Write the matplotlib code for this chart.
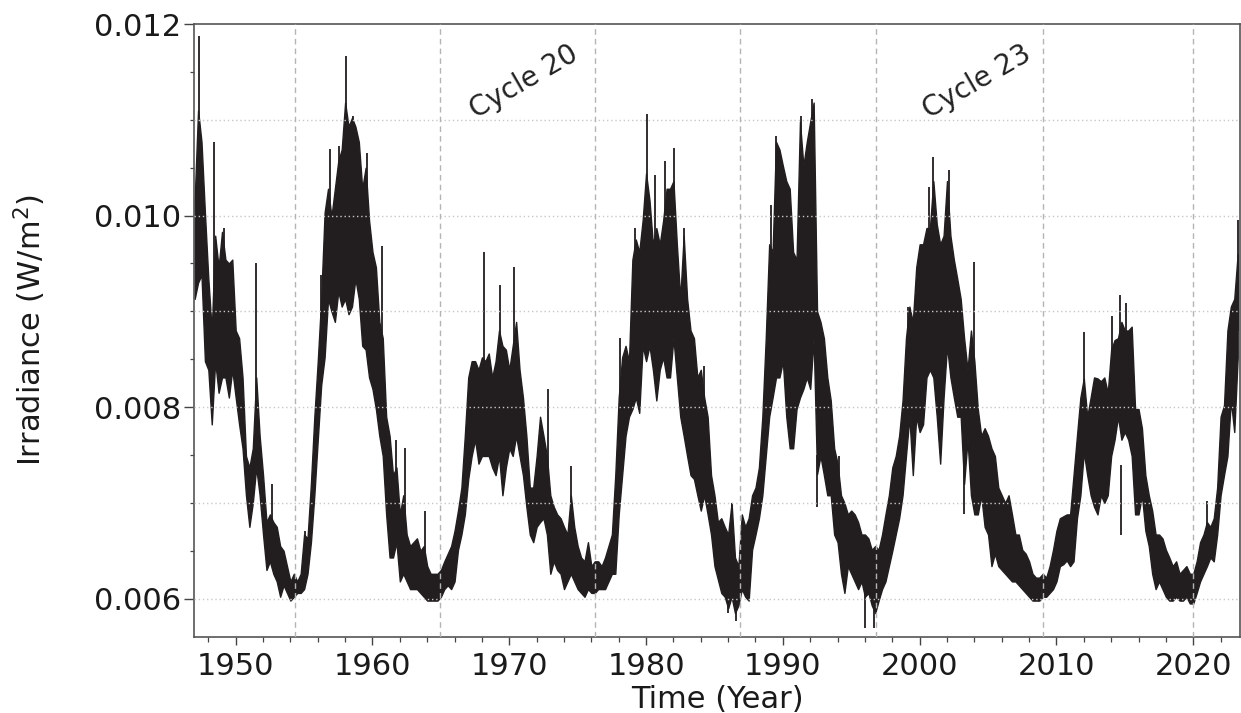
import numpy as np
import matplotlib
matplotlib.use("Agg")
import matplotlib.pyplot as plt
from matplotlib.ticker import MultipleLocator, FormatStrFormatter

# ---------------- data (irradiance in 1e-3 W/m^2) ----------------
t_start = 1947.0
t_step = 0.25  # quarter-year samples

irr_high = [
    10.16, 11.10, 10.77, 10.03, 9.34, 8.80, 9.79, 9.46, 9.83, 9.54, 9.50, 9.54,      # 1947-1949
    8.80, 8.72, 8.31, 7.49, 7.37, 7.57, 8.31, 7.70, 7.29, 6.80, 6.88, 6.80,          # 1950-1952
    6.75, 6.55, 6.50, 6.34, 6.18, 6.26, 6.18, 6.26, 6.67, 6.63, 7.20, 7.90,          # 1953-1955
    8.48, 9.13, 10.03, 10.28, 9.99, 10.28, 10.57, 10.69, 11.18, 10.93, 11.02, 10.93,  # 1956-1958
    10.77, 10.28, 10.50, 9.95, 9.62, 9.46, 8.89, 8.72, 7.90, 7.70, 7.29, 7.37,       # 1959-1961
    6.88, 7.08, 6.67, 6.55, 6.59, 6.63, 6.50, 6.55, 6.34, 6.26, 6.26, 6.26,          # 1962-1964
    6.30, 6.39, 6.47, 6.55, 6.71, 6.92, 7.16, 7.70, 8.31, 8.48, 8.48, 8.39,          # 1965-1967
    8.52, 8.48, 8.56, 8.31, 8.48, 8.80, 8.64, 8.60, 8.39, 8.64, 8.89, 8.39,          # 1968-1970
    8.10, 7.70, 7.16, 7.16, 7.49, 7.90, 7.70, 7.49, 7.08, 6.96, 6.88, 6.84,          # 1971-1973
    6.75, 6.67, 7.08, 6.75, 6.55, 6.43, 6.39, 6.59, 6.34, 6.39, 6.39, 6.34,          # 1974-1976
    6.43, 6.55, 6.67, 7.29, 8.10, 8.52, 8.64, 8.48, 9.54, 9.75, 9.62, 9.95,          # 1977-1979
    10.44, 10.16, 9.70, 9.87, 9.70, 9.95, 10.28, 10.28, 10.36, 9.70, 9.13, 9.79,     # 1980-1982
    9.13, 8.80, 8.72, 8.31, 8.39, 8.10, 7.90, 7.29, 7.08, 6.80, 6.84, 6.75,          # 1983-1985
    6.67, 7.00, 6.43, 6.34, 6.88, 6.75, 6.84, 7.08, 7.16, 7.37, 7.90, 8.72,          # 1986-1988
    9.70, 9.62, 10.77, 10.69, 10.52, 10.36, 10.28, 9.62, 9.54, 10.98, 10.52, 10.77,  # 1989-1991
    10.98, 11.18, 9.00, 8.89, 8.72, 8.31, 8.07, 7.57, 7.41, 7.08, 7.00, 6.88,        # 1992-1994
    6.92, 6.88, 6.80, 6.67, 6.67, 6.63, 6.51, 6.55, 6.51, 6.67, 6.88, 7.08,          # 1995-1997
    7.37, 7.49, 7.70, 8.07, 8.72, 9.05, 8.89, 9.46, 9.70, 9.70, 9.87, 9.87,          # 1998-2000
    10.36, 9.91, 9.70, 9.79, 10.36, 9.79, 9.54, 9.34, 9.13, 8.72, 8.39, 8.80,        # 2001-2003
    8.48, 7.98, 7.70, 7.78, 7.70, 7.57, 7.49, 7.16, 7.08, 7.00, 7.08, 6.88,          # 2004-2006
    6.67, 6.67, 6.51, 6.47, 6.39, 6.26, 6.22, 6.22, 6.26, 6.22, 6.34, 6.51,          # 2007-2009
    6.71, 6.84, 6.86, 6.88, 6.88, 7.29, 7.70, 8.10, 8.30, 7.90, 8.10, 8.31,          # 2010-2012
    8.30, 8.27, 8.31, 8.15, 8.60, 8.70, 8.72, 8.89, 8.80, 8.80, 8.84, 7.98,          # 2013-2015
    7.98, 7.78, 7.29, 7.08, 6.92, 6.67, 6.67, 6.63, 6.51, 6.43, 6.34, 6.39,          # 2016-2018
    6.26, 6.30, 6.34, 6.26, 6.26, 6.39, 6.59, 6.67, 6.80, 6.75, 6.84, 7.16,          # 2019-2021
    7.90, 8.02, 8.80, 9.05, 9.13, 9.60,                                              # 2022-2023.25
]

irr_low = [
    9.13, 9.30, 9.38, 8.48, 8.39, 7.82, 8.48, 8.15, 8.31, 8.31, 8.10, 8.39,          # 1947-1949
    8.10, 7.82, 7.57, 7.08, 6.75, 7.00, 7.37, 7.08, 6.67, 6.30, 6.39, 6.26,          # 1950-1952
    6.18, 6.02, 6.14, 6.06, 5.98, 6.02, 6.06, 6.06, 6.10, 6.26, 6.59, 7.08,          # 1953-1955
    7.66, 8.23, 8.52, 9.13, 9.00, 8.89, 9.21, 9.05, 9.13, 8.97, 9.05, 9.34,          # 1956-1958
    9.13, 8.64, 8.60, 8.31, 8.19, 7.98, 7.70, 7.49, 6.88, 6.43, 6.43, 6.59,          # 1959-1961
    6.18, 6.26, 6.18, 6.10, 6.10, 6.10, 6.06, 6.02, 5.98, 5.98, 5.98, 5.98,          # 1962-1964
    6.02, 6.10, 6.14, 6.10, 6.18, 6.51, 6.67, 6.88, 7.25, 7.49, 7.66, 7.41,          # 1965-1967
    7.49, 7.49, 7.49, 7.37, 7.29, 7.49, 7.08, 7.37, 7.57, 7.49, 7.70, 7.49,          # 1968-1970
    7.29, 6.96, 6.67, 6.59, 6.75, 6.80, 6.84, 6.67, 6.26, 6.39, 6.30, 6.26,          # 1971-1973
    6.10, 6.18, 6.26, 6.18, 6.10, 6.06, 6.02, 6.10, 6.06, 6.06, 6.10, 6.10,          # 1974-1976
    6.10, 6.18, 6.26, 6.26, 6.88, 7.29, 7.70, 7.90, 7.98, 8.10, 7.94, 8.64,          # 1977-1979
    8.48, 8.64, 8.39, 8.07, 8.39, 8.52, 8.31, 8.31, 8.72, 8.31, 7.90, 7.70,          # 1980-1982
    7.49, 7.29, 7.25, 7.08, 6.92, 7.08, 6.88, 6.67, 6.34, 6.20, 6.06, 6.02,          # 1983-1985
    5.90, 6.02, 5.85, 5.93, 6.10, 6.02, 5.98, 6.51, 6.67, 6.84, 7.08, 7.49,          # 1986-1988
    7.90, 8.10, 8.31, 8.31, 8.48, 7.90, 7.57, 7.57, 7.98, 8.10, 8.19, 8.31,          # 1989-1991
    8.19, 8.72, 7.30, 7.49, 7.29, 7.08, 7.08, 6.67, 6.59, 6.26, 6.06, 6.34,          # 1992-1994
    6.26, 6.18, 6.10, 6.18, 6.02, 6.06, 5.93, 5.85, 5.98, 6.10, 6.18, 6.34,          # 1995-1997
    6.50, 6.67, 6.84, 7.08, 7.49, 7.90, 7.29, 7.90, 7.74, 7.82, 8.31, 8.39,          # 1998-2000
    8.31, 7.90, 7.41, 8.10, 8.64, 8.31, 8.10, 7.90, 7.90, 7.20, 7.66, 7.08,          # 2001-2003
    6.88, 6.88, 7.08, 6.75, 6.67, 6.34, 6.47, 6.34, 6.30, 6.26, 6.22, 6.18,          # 2004-2006
    6.18, 6.14, 6.10, 6.06, 6.02, 5.98, 5.98, 5.98, 6.02, 6.02, 6.06, 6.10,          # 2007-2009
    6.18, 6.34, 6.36, 6.40, 6.34, 6.39, 6.84, 7.08, 7.53, 7.29, 7.08, 6.96,          # 2010-2012
    6.88, 7.08, 7.00, 7.08, 7.49, 7.66, 7.90, 7.66, 7.74, 7.66, 7.49, 6.88,          # 2013-2015
    6.88, 7.08, 6.71, 6.55, 6.26, 6.10, 6.18, 6.10, 6.02, 5.98, 5.98, 6.02,          # 2016-2018
    5.98, 5.98, 6.02, 5.95, 5.95, 6.06, 6.18, 6.26, 6.34, 6.43, 6.39, 6.67,          # 2019-2021
    7.08, 7.29, 7.49, 8.07, 7.74, 8.52,                                              # 2022-2023.25
]

# isolated daily spikes: year, inner end, outer end (1e-3 W/m^2)
spike_year = [1947.30, 1948.40, 1949.15, 1951.45, 1952.69, 1955.08, 1956.23, 1956.93,
              1957.54, 1958.08, 1958.60, 1959.60, 1960.71, 1961.71, 1962.37, 1963.83,
              1968.15, 1969.32, 1970.34, 1972.85, 1974.48, 1978.09, 1979.19, 1980.04,
              1980.65, 1981.39, 1982.04, 1982.80, 1984.24, 1986.26, 1989.14, 1989.53,
              1991.33, 1992.16, 1994.11, 1999.18, 2000.65, 2000.99, 2002.18, 2003.94,
              2012.01, 2014.08, 2014.62, 2015.05, 2021.03, 2023.30,
              1986.00, 1986.55, 1992.50, 1996.00, 1996.65, 2003.25, 2014.72]
spike_from = [10.0, 9.0, 9.0, 7.8, 6.6, 6.4, 8.6, 9.6,
              9.8, 10.0, 10.0, 9.6, 8.2, 7.0, 6.7, 6.3,
              8.0, 8.2, 8.1, 7.1, 6.7, 7.5, 8.8, 9.5,
              9.0, 9.2, 9.5, 8.6, 7.6, 6.4, 9.0, 9.5,
              9.2, 9.5, 6.9, 8.3, 9.0, 9.2, 9.2, 7.7,
              7.9, 8.0, 8.2, 8.2, 6.6, 8.8,
              6.2, 6.1, 7.5, 6.2, 6.1, 7.5, 7.4]
spike_to = [11.88, 10.77, 9.87, 9.50, 7.20, 6.71, 9.38, 10.69,
            10.73, 11.67, 11.04, 10.65, 9.68, 7.66, 7.57, 6.92,
            9.62, 9.27, 9.46, 8.19, 7.39, 8.72, 9.87, 11.06,
            10.42, 10.57, 10.71, 9.87, 8.43, 7.00, 10.11, 10.83,
            11.04, 11.22, 7.49, 9.05, 10.30, 10.61, 10.48, 9.52,
            8.78, 8.95, 9.17, 9.09, 7.02, 9.95,
            5.85, 5.77, 6.96, 5.69, 5.69, 6.88, 6.67]

cycle_minima = [1954.3, 1964.9, 1976.3, 1986.9, 1996.8, 2009.0, 2020.0]
cycle_labels = ["Cycle 20", "Cycle 23"]
cycle_label_x = [1971.1, 2004.2]
cycle_label_y = [0.011395, 0.011395]

# ---------------- plot ----------------
scale = 1e-3
t = t_start + t_step * np.arange(len(irr_high))
hi = np.array(irr_high) * scale
lo = np.array(irr_low) * scale

line_col = "#221e1f"
fig = plt.figure(figsize=(12.41, 7.13), dpi=100)
ax = fig.add_axes([0.1563, 0.1066, 0.8429, 0.8597])

ax.fill_between(t, lo, hi, color=line_col, lw=1.0, edgecolor=line_col, zorder=2)
ax.vlines(spike_year, np.array(spike_from) * scale, np.array(spike_to) * scale,
          color=line_col, lw=1.3, zorder=2)

# grid
for yv in np.arange(0.006, 0.0115, 0.001):
    ax.axhline(yv, color="#c8c8c8", lw=1.0, ls=(0, (1, 2)), zorder=3)
for xv in cycle_minima:
    ax.axvline(xv, color="#b4b4b4", lw=1.0, ls=(0, (4, 3)), zorder=3)

for lab, lx, ly in zip(cycle_labels, cycle_label_x, cycle_label_y):
    ax.text(lx, ly, lab, rotation=30, fontsize=20, ha="center", va="center",
            color="#222222", rotation_mode="anchor", zorder=4)

ax.set_xlim(1946.95, 2023.42)
ax.set_ylim(0.0056, 0.012)
ax.xaxis.set_major_locator(MultipleLocator(10))
ax.xaxis.set_minor_locator(MultipleLocator(2))
ax.yaxis.set_major_locator(MultipleLocator(0.002))
ax.yaxis.set_minor_locator(MultipleLocator(0.0005))
ax.yaxis.set_major_formatter(FormatStrFormatter("%.3f"))

ax.tick_params(axis="x", which="major", labelsize=22, length=5.5, width=1.0,
               color="#444444", labelcolor="#1a1a1a", pad=5)
ax.tick_params(axis="y", which="major", labelsize=22, length=7.5, width=1.0,
               color="#444444", labelcolor="#1a1a1a", pad=1.5)
ax.tick_params(axis="x", which="minor", length=3.5, width=0.9, color="#444444")
ax.tick_params(axis="y", which="minor", length=3.0, width=0.9, color="#444444")
for s in ax.spines.values():
    s.set_color("#555555")
    s.set_linewidth(1.2)

ax.set_xlabel("Time (Year)", fontsize=22, color="#1a1a1a", labelpad=3)
ax.set_ylabel("Irradiance (W/m$^2$)", fontsize=22, color="#1a1a1a", labelpad=33)

fig.savefig("out.png", dpi=100)
